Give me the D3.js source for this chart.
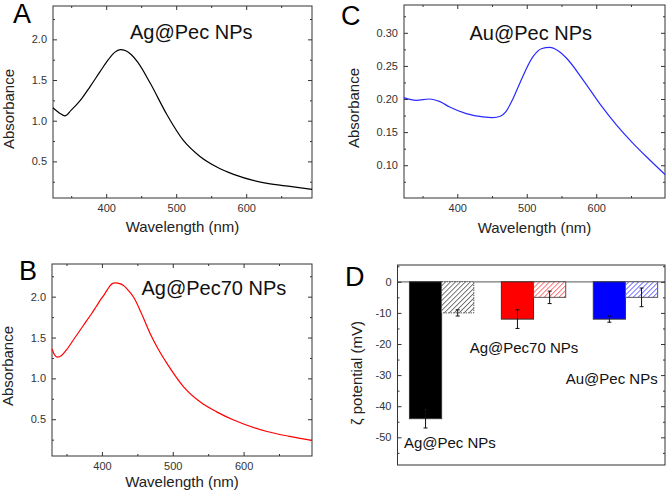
<!DOCTYPE html>
<html>
<head>
<meta charset="utf-8">
<script src="https://cdn.jsdelivr.net/npm/d3@7"></script>
<style>
  body { margin: 0; background: #fff; }
  svg { display: block; font-family: "Liberation Sans", Arial, sans-serif; }
  .axis text { fill: #333; font-size: 11px; }
  .axis line { stroke: #333; }
  .axis .domain { display: none; }
</style>
</head>
<body>
<svg id="chart" width="666" height="495"></svg>
<script>
"use strict";

// ---- data ----
// A: Ag@Pec NPs
const agPecWl  = [324, 334, 341, 350, 363, 377, 391, 403, 412, 420, 428, 436, 445, 463, 487, 510, 534, 558, 582, 630, 665, 694];
const agPecAbs = [1.16, 1.09, 1.06, 1.13, 1.25, 1.42, 1.60, 1.75, 1.84, 1.875, 1.86, 1.81, 1.72, 1.46, 1.07, 0.76, 0.56, 0.43, 0.34, 0.23, 0.19, 0.155];

// B: Ag@Pec70 NPs
const agPec70Wl  = [329.5, 333, 337, 343, 350, 362, 374, 386, 392, 398, 404, 408, 412, 416, 420, 425, 430, 436, 440, 445, 456, 468, 480, 492, 515, 539, 562, 586, 633, 665, 696];
const agPec70Abs = [1.36, 1.29, 1.26, 1.28, 1.35, 1.50, 1.65, 1.80, 1.88, 1.96, 2.035, 2.09, 2.14, 2.165, 2.17, 2.16, 2.14, 2.09, 2.05, 1.99, 1.79, 1.55, 1.35, 1.18, 0.90, 0.71, 0.59, 0.49, 0.35, 0.29, 0.24];

// C: Au@Pec NPs
const auPecWl  = [323, 341, 360, 375, 389, 413, 437, 451, 462, 470, 480, 490, 509, 521, 533, 545, 557, 581, 605, 629, 653, 676, 699];
const auPecAbs = [0.202, 0.198, 0.200, 0.196, 0.188, 0.178, 0.173, 0.172, 0.174, 0.181, 0.200, 0.224, 0.264, 0.276, 0.278, 0.273, 0.262, 0.229, 0.193, 0.161, 0.133, 0.109, 0.086];

// D: zeta potential
const zetaGroups   = ["Ag@Pec NPs", "Ag@Pec70 NPs", "Au@Pec NPs"];
const zetaSolid    = [-44, -12, -12];
const zetaSolidErr = [3, 3, 1];
const zetaHatch    = [-10, -5, -5];
const zetaHatchErr = [1, 2, 3];
const zetaYTicks   = [0, -10, -20, -30, -40, -50];

const svg = d3.select("#chart");
svg.append("rect").attr("width", 666).attr("height", 495).attr("fill", "#fff");

// inward ticks on all four sides of a frame
function frameAxes(g, x, y, opt) {
  const w = x.range()[1], h = y.range()[0];
  const add = (axis, tr) => g.append("g").attr("class", "axis").attr("transform", tr).call(axis);

  if (opt.xMajor) {
    add(d3.axisBottom(x).tickValues(opt.xMajor).tickSize(-4).tickPadding(6), `translate(0,${h})`);
    add(d3.axisBottom(x).tickValues(opt.xMinor).tickSize(-2).tickFormat(""), `translate(0,${h})`);
    add(d3.axisTop(x).tickValues(opt.xMajor).tickSize(-4).tickFormat(""), "translate(0,0)");
    add(d3.axisTop(x).tickValues(opt.xMinor).tickSize(-2).tickFormat(""), "translate(0,0)");
  }
  add(d3.axisLeft(y).tickValues(opt.yMajor).tickSize(-4).tickPadding(6).tickFormat(opt.yFmt), "translate(0,0)");
  add(d3.axisLeft(y).tickValues(opt.yMinor).tickSize(-2).tickFormat(""), "translate(0,0)");
  add(d3.axisRight(y).tickValues(opt.yMajor).tickSize(-4).tickFormat(""), `translate(${w},0)`);
  add(d3.axisRight(y).tickValues(opt.yMinor).tickSize(-2).tickFormat(""), `translate(${w},0)`);

  g.append("rect")
    .attr("width", w).attr("height", h)
    .attr("fill", "none").attr("stroke", "#333").attr("stroke-width", 1);
}

function letter(txt, x, y) {
  svg.append("text").attr("x", x).attr("y", y)
    .attr("font-size", 27).attr("fill", "#000").text(txt);
}

function spectrum(p) {
  const g = svg.append("g").attr("transform", `translate(${p.left},${p.top})`);
  const w = p.right - p.left, h = p.bottom - p.top;
  const x = d3.scaleLinear().domain(p.xDomain).range([0, w]);
  const y = d3.scaleLinear().domain(p.yDomain).range([h, 0]);

  frameAxes(g, x, y, {
    xMajor: [400, 500, 600], xMinor: [350, 450, 550, 650],
    yMajor: p.yMajor, yMinor: p.yMinor, yFmt: p.yFmt
  });

  const line = d3.line()
    .x((d, i) => x(p.wl[i]))
    .y(d => y(d))
    .curve(d3.curveMonotoneX);

  g.append("path")
    .datum(p.abs)
    .attr("d", line)
    .attr("fill", "none")
    .attr("stroke", p.color)
    .attr("stroke-width", 1.2);

  g.append("text")
    .attr("x", p.titleX - p.left).attr("y", p.titleY - p.top)
    .attr("font-size", 20).attr("fill", "#111").text(p.title);

  g.append("text")
    .attr("x", w / 2).attr("y", h + p.xLabelGap)
    .attr("text-anchor", "middle").attr("font-size", 15).attr("fill", "#222")
    .text("Wavelength (nm)");

  svg.append("text")
    .attr("transform", `translate(${p.yLabelX},${p.yLabelY}) rotate(-90)`)
    .attr("text-anchor", "middle").attr("font-size", 15).attr("fill", "#222")
    .text("Absorbance");
}

spectrum({
  left: 53, right: 312, top: 6, bottom: 198,
  xDomain: [324, 694], yDomain: [0.05, 2.41],
  yMajor: [0.5, 1.0, 1.5, 2.0], yMinor: [0.25, 0.75, 1.25, 1.75, 2.25], yFmt: d3.format(".1f"),
  wl: agPecWl, abs: agPecAbs, color: "#000",
  title: "Ag@Pec NPs", titleX: 130, titleY: 38.5,
  xLabelGap: 34, yLabelX: 14, yLabelY: 109
});

spectrum({
  left: 52, right: 312, top: 264, bottom: 456,
  xDomain: [329.5, 696.6], yDomain: [0.05, 2.40],
  yMajor: [0.5, 1.0, 1.5, 2.0], yMinor: [0.25, 0.75, 1.25, 1.75, 2.25], yFmt: d3.format(".1f"),
  wl: agPec70Wl, abs: agPec70Abs, color: "#ff0000",
  title: "Ag@Pec70 NPs", titleX: 141.5, titleY: 295,
  xLabelGap: 31, yLabelX: 13, yLabelY: 366
});

spectrum({
  left: 404, right: 665, top: 5, bottom: 198,
  xDomain: [323.3, 699], yDomain: [0.0505, 0.342],
  yMajor: [0.10, 0.15, 0.20, 0.25, 0.30], yMinor: [0.075, 0.125, 0.175, 0.225, 0.275, 0.325], yFmt: d3.format(".2f"),
  wl: auPecWl, abs: auPecAbs, color: "#2a2aff",
  title: "Au@Pec NPs", titleX: 469.5, titleY: 39.5,
  xLabelGap: 35, yLabelX: 358.5, yLabelY: 108
});

letter("A", 13, 23);
letter("B", 19, 280);
letter("C", 341, 24.5);
letter("D", 345, 286);

// ---- panel D: zeta potential bars ----
(function () {
  const left = 397.5, right = 665, top = 265, bottom = 465;
  const w = right - left, h = bottom - top;
  const g = svg.append("g").attr("transform", `translate(${left},${top})`);
  const x = d3.scaleLinear().domain([0.52, 3.43]).range([0, w]);
  const y = d3.scaleLinear().domain([-58.9, 5.4]).range([h, 0]);
  const bw = 0.35;

  // hatch patterns
  const defs = svg.append("defs");
  const hatchColors = ["#333", "#ff3030", "#3030ff"];
  hatchColors.forEach((c, i) => {
    const pat = defs.append("pattern")
      .attr("id", "hatch" + i)
      .attr("patternUnits", "userSpaceOnUse")
      .attr("width", 3.5).attr("height", 3.5)
      .attr("patternTransform", "rotate(45)");
    pat.append("rect").attr("width", 3.5).attr("height", 3.5).attr("fill", "#fff");
    pat.append("line").attr("x1", 0).attr("y1", 0).attr("x2", 0).attr("y2", 3.5)
      .attr("stroke", c).attr("stroke-width", 1.3);
  });

  // zero line
  g.append("line")
    .attr("x1", 0).attr("x2", w).attr("y1", y(0)).attr("y2", y(0))
    .attr("stroke", "#777").attr("stroke-width", 1.2);

  const solidColors = ["#000", "#ff0000", "#0000ff"];

  zetaGroups.forEach((name, i) => {
    const c = i + 1;
    g.append("rect")
      .attr("x", x(c - bw)).attr("width", x(c) - x(c - bw))
      .attr("y", y(0)).attr("height", y(zetaSolid[i]) - y(0))
      .attr("fill", solidColors[i]).attr("stroke", "#333").attr("stroke-width", 1);
    g.append("rect")
      .attr("x", x(c)).attr("width", x(c + bw) - x(c))
      .attr("y", y(0)).attr("height", y(zetaHatch[i]) - y(0))
      .attr("fill", `url(#hatch${i})`).attr("stroke", "#555").attr("stroke-width", 1)
      .attr("stroke-dasharray", i === 0 ? "1.5,1" : null);
  });

  // error bars
  const errs = [];
  zetaGroups.forEach((name, i) => {
    errs.push({ cx: i + 1 - bw / 2, v: zetaSolid[i], e: zetaSolidErr[i] });
    errs.push({ cx: i + 1 + bw / 2, v: zetaHatch[i], e: zetaHatchErr[i] });
  });
  const eg = g.append("g").attr("stroke", "#111").attr("stroke-width", 1);
  errs.forEach(d => {
    const px = x(d.cx);
    eg.append("line").attr("x1", px).attr("x2", px).attr("y1", y(d.v + d.e)).attr("y2", y(d.v - d.e));
    [d.v + d.e, d.v - d.e].forEach(v => {
      eg.append("line").attr("x1", px - 2).attr("x2", px + 2).attr("y1", y(v)).attr("y2", y(v));
    });
  });

  // plain hyphen minus, as in the original
  frameAxes(g, x, y, {
    yMajor: zetaYTicks, yMinor: [5, -5, -15, -25, -35, -45, -55], yFmt: d => String(d)
  });

  // group names written inside the plot
  const labelX = [0.59, 1.305, 2.35];
  const labelY = [-53.4, -22.8, -32.9];
  zetaGroups.forEach((name, i) => {
    g.append("text")
      .attr("x", x(labelX[i])).attr("y", y(labelY[i]))
      .attr("font-size", 15).attr("fill", "#111").text(name);
  });

  svg.append("text")
    .attr("transform", `translate(362,373) rotate(-90)`)
    .attr("text-anchor", "middle").attr("font-size", 15).attr("fill", "#222")
    .text("ζ potential (mV)");
})();
</script>
</body>
</html>
